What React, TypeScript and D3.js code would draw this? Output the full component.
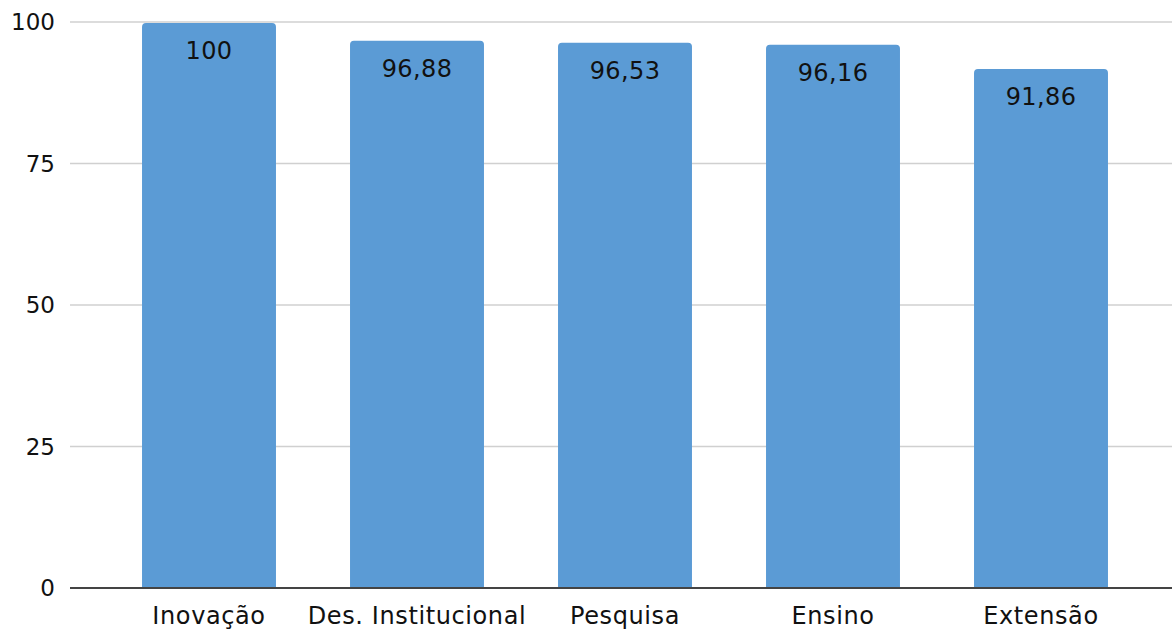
import React, { useEffect } from 'react';
import * as d3 from 'd3';

const categories = ['Inovação', 'Des. Institucional', 'Pesquisa', 'Ensino', 'Extensão'];
const values = [100, 96.88, 96.53, 96.16, 91.86];
const valueLabels = ['100', '96,88', '96,53', '96,16', '91,86'];
const yTicks = [0, 25, 50, 75, 100];

const W = 1172;
const H = 631;

const App: React.FC = () => {
  useEffect(() => {
    document.body.style.margin = '0';
  }, []);

  const x = d3.scaleBand<string>()
    .domain(categories)
    .range([105, 1145])
    .paddingInner(0.356)
    .paddingOuter(0.178);

  const y = d3.scaleLinear().domain([0, 100]).range([588, 22]);

  const font = 'Verdana, "DejaVu Sans", sans-serif';
  const r = 4;

  // bar with rounded top corners
  const barPath = (xPos: number, w: number, top: number, bottom: number) => {
    const p = d3.path();
    p.moveTo(xPos, bottom);
    p.lineTo(xPos, top + r);
    p.quadraticCurveTo(xPos, top, xPos + r, top);
    p.lineTo(xPos + w - r, top);
    p.quadraticCurveTo(xPos + w, top, xPos + w, top + r);
    p.lineTo(xPos + w, bottom);
    p.closePath();
    return p.toString();
  };

  return (
    <svg width={W} height={H} style={{ display: 'block' }} fontFamily={font}>
      <rect width={W} height={H} fill="#fff" />
      {yTicks.map(t => (
        <g key={t}>
          {t !== 0 && (
            <line x1={70} x2={W} y1={y(t)} y2={y(t)} stroke="#d0d0d0" strokeWidth={1.5} />
          )}
          <text x={55} y={y(t)} dy="0.36em" textAnchor="end" fontSize={23} fill="#111">
            {t}
          </text>
        </g>
      ))}
      {categories.map((c, i) => {
        const bx = x(c)!;
        const bw = x.bandwidth();
        return (
          <g key={c}>
            <path d={barPath(bx, bw, y(values[i]) + 1, y(0))} fill="#5b9bd5" />
            <text x={bx + bw / 2} y={y(values[i]) + 37} textAnchor="middle" fontSize={24} letterSpacing={0.4} fill="#111">
              {valueLabels[i]}
            </text>
            <text x={bx + bw / 2} y={624} textAnchor="middle" fontSize={24} letterSpacing={0.6} fill="#111">
              {c}
            </text>
          </g>
        );
      })}
      <line x1={70} x2={W} y1={y(0)} y2={y(0)} stroke="#444" strokeWidth={2} />
    </svg>
  );
};

export default App;
